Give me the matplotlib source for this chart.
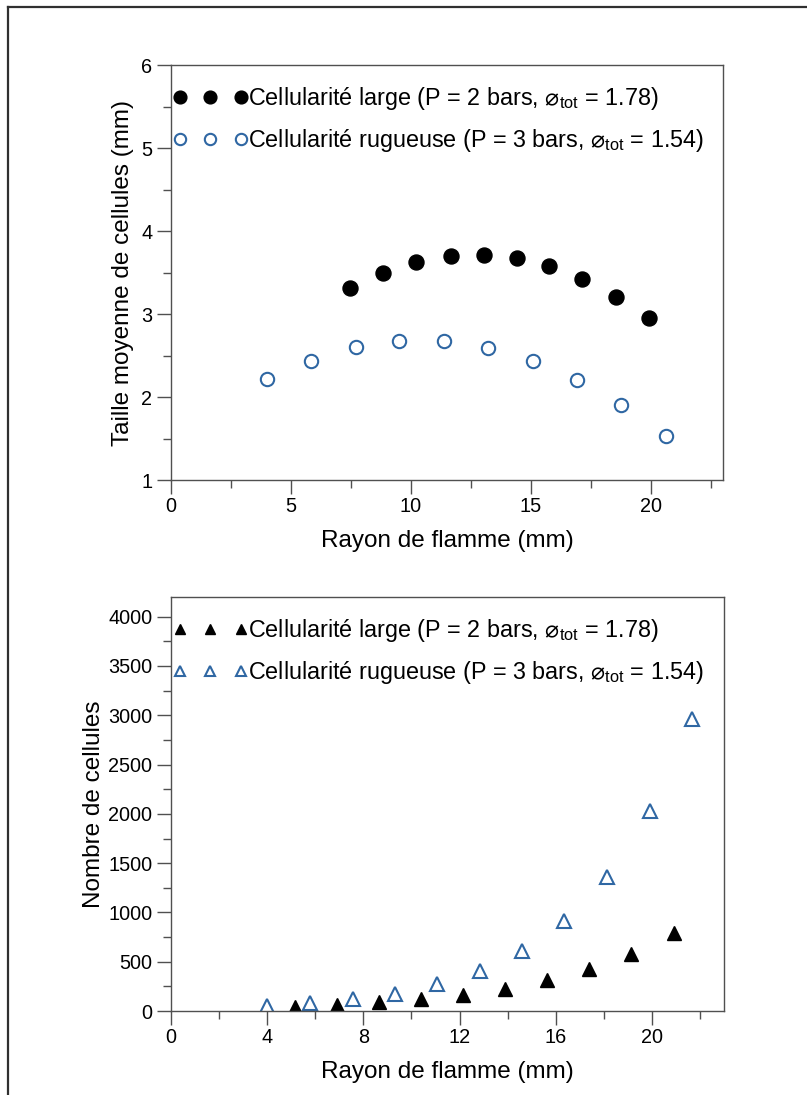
import matplotlib
matplotlib.use("Agg")
import matplotlib.pyplot as plt
from matplotlib.lines import Line2D
from matplotlib.ticker import MultipleLocator

plt.rcParams["font.family"] = ["Liberation Sans", "DejaVu Sans"]
plt.rcParams["mathtext.fontset"] = "custom"
plt.rcParams["mathtext.rm"] = "Liberation Sans"
plt.rcParams["mathtext.sf"] = "DejaVu Sans"

# taille moyenne des cellules (haut)
r_large_top = [7.46, 8.85, 10.22, 11.65, 13.03, 14.42, 15.76, 17.14, 18.53, 19.92]
taille_large = [3.31, 3.50, 3.63, 3.70, 3.71, 3.67, 3.58, 3.42, 3.21, 2.95]
r_rug_top = [4.0, 5.83, 7.69, 9.52, 11.38, 13.22, 15.07, 16.9, 18.75, 20.61]
taille_rug = [2.22, 2.44, 2.60, 2.67, 2.67, 2.59, 2.44, 2.21, 1.91, 1.53]

# nombre de cellules (bas)
r_large_bot = [5.15, 6.89, 8.64, 10.41, 12.15, 13.9, 15.65, 17.4, 19.15, 20.9]
nombre_large = [45, 57, 89, 118, 162, 227, 311, 429, 581, 794]
r_rug_bot = [4.0, 5.78, 7.57, 9.3, 11.07, 12.83, 14.6, 16.35, 18.13, 19.9, 21.67]
nombre_rug = [52, 78, 123, 176, 271, 406, 608, 912, 1362, 2030, 2964]

label_large = "Cellularité large (P = 2 bars, $\\mathsf{⌀}_{\\mathrm{tot}}$ = 1.78)"
label_rug = "Cellularité rugueuse (P = 3 bars, $\\mathsf{⌀}_{\\mathrm{tot}}$ = 1.54)"

BLUE = "#2f67a3"
SPINE = "#505050"

fig = plt.figure(figsize=(8.07, 10.95), dpi=100)

# cadre autour de la figure
fig.add_artist(Line2D([0.0099, 0.0099], [0.0, 0.9936], transform=fig.transFigure,
                      color="#303030", lw=1.6))
fig.add_artist(Line2D([0.0099, 1.0], [0.9936, 0.9936], transform=fig.transFigure,
                      color="#303030", lw=1.6))

ax1 = fig.add_axes([0.2119, 0.5616, 0.6840, 0.3790])
ax2 = fig.add_axes([0.2119, 0.0767, 0.6853, 0.3781])


def style_axes(ax):
    for s in ax.spines.values():
        s.set_color(SPINE)
        s.set_linewidth(1.0)
    ax.tick_params(which="major", direction="out", length=10, width=1,
                   color=SPINE, labelsize=14.3, pad=2)
    ax.tick_params(which="minor", direction="out", length=5.5, width=1,
                   color=SPINE)
    ax.tick_params(axis="y", which="major", pad=3.5)


legend_kw = dict(loc="upper left", bbox_to_anchor=(-0.005, 0.962), frameon=False,
                 numpoints=3, handlelength=3.2, handletextpad=0.02, borderpad=0.2,
                 labelspacing=0.62, fontsize=16.8, borderaxespad=0)

ax1.plot(r_large_top, taille_large, "o", ms=10.8, color="black", ls="none",
         label=label_large)
ax1.plot(r_rug_top, taille_rug, "o", ms=9.6, mfc="white", mec=BLUE, mew=1.5,
         ls="none", label=label_rug)
ax1.set_xlim(0, 23)
ax1.set_ylim(1, 6)
ax1.xaxis.set_major_locator(MultipleLocator(5))
ax1.xaxis.set_minor_locator(MultipleLocator(2.5))
ax1.yaxis.set_major_locator(MultipleLocator(1))
ax1.yaxis.set_minor_locator(MultipleLocator(0.5))
style_axes(ax1)
ax1.set_xlabel("Rayon de flamme (mm)", fontsize=17.5, labelpad=10)
ax1.set_ylabel("Taille moyenne de cellules (mm)", fontsize=17.5, labelpad=5)
ax1.legend(markerscale=0.85, **legend_kw)

ax2.plot(r_large_bot, nombre_large, "^", ms=10, color="black", ls="none",
         label=label_large)
ax2.plot(r_rug_bot, nombre_rug, "^", ms=10, mfc="white", mec=BLUE, mew=1.5,
         ls="none", label=label_rug)
ax2.set_xlim(0, 23)
ax2.set_ylim(0, 4200)
ax2.xaxis.set_major_locator(MultipleLocator(4))
ax2.xaxis.set_minor_locator(MultipleLocator(2))
ax2.yaxis.set_major_locator(MultipleLocator(500))
ax2.yaxis.set_minor_locator(MultipleLocator(250))
style_axes(ax2)
ax2.set_xlabel("Rayon de flamme (mm)", fontsize=17.5, labelpad=10)
ax2.set_ylabel("Nombre de cellules", fontsize=17.5, labelpad=2)
ax2.legend(markerscale=0.7, **legend_kw)

fig.savefig("out.png", dpi=100)
